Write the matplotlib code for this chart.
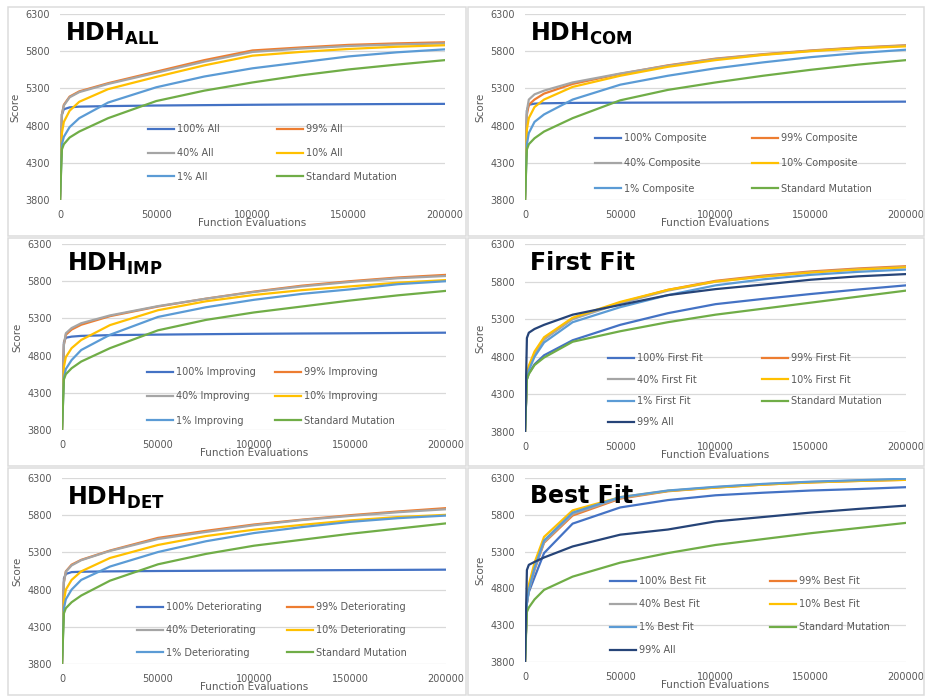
import matplotlib
matplotlib.use('Agg')
import matplotlib.pyplot as plt
from matplotlib.patches import Rectangle

# ---- data ----
evals = [0, 1000, 2000, 5000, 10000, 25000, 50000, 75000, 100000, 125000, 150000, 175000, 200000]

all_100 = [3800, 4950, 5020, 5045, 5055, 5062, 5070, 5075, 5080, 5084, 5087, 5090, 5092]
all_99 = [3800, 4950, 5080, 5190, 5260, 5370, 5525, 5680, 5810, 5850, 5885, 5905, 5920]
all_40 = [3800, 4950, 5070, 5180, 5250, 5360, 5510, 5660, 5790, 5835, 5870, 5890, 5905]
all_10 = [3800, 4700, 4850, 5000, 5120, 5290, 5455, 5610, 5740, 5790, 5830, 5860, 5880]
all_1 = [3800, 4550, 4650, 4780, 4900, 5110, 5315, 5460, 5570, 5650, 5730, 5785, 5825]
all_std = [3800, 4480, 4550, 4640, 4720, 4900, 5130, 5270, 5380, 5475, 5555, 5620, 5680]

com_100 = [3800, 5000, 5080, 5095, 5100, 5105, 5108, 5110, 5112, 5115, 5117, 5119, 5122]
com_99 = [3800, 4950, 5080, 5150, 5230, 5360, 5495, 5610, 5700, 5760, 5810, 5850, 5880]
com_40 = [3800, 5000, 5150, 5220, 5270, 5380, 5500, 5605, 5695, 5755, 5805, 5845, 5875]
com_10 = [3800, 4750, 4900, 5050, 5150, 5320, 5470, 5590, 5680, 5750, 5800, 5840, 5865]
com_1 = [3800, 4550, 4700, 4850, 4950, 5150, 5350, 5470, 5570, 5650, 5720, 5775, 5820]
com_std = [3800, 4480, 4550, 4630, 4720, 4900, 5140, 5280, 5380, 5470, 5550, 5620, 5680]

imp_100 = [3800, 4980, 5040, 5055, 5065, 5075, 5082, 5088, 5093, 5097, 5100, 5104, 5108]
imp_99 = [3800, 4950, 5080, 5150, 5215, 5330, 5460, 5565, 5660, 5740, 5800, 5850, 5885]
imp_40 = [3800, 4950, 5100, 5170, 5235, 5340, 5465, 5565, 5655, 5730, 5790, 5840, 5870]
imp_10 = [3800, 4650, 4780, 4900, 5010, 5210, 5410, 5530, 5615, 5680, 5730, 5780, 5815]
imp_1 = [3800, 4500, 4620, 4740, 4875, 5080, 5320, 5450, 5550, 5630, 5690, 5760, 5800]
imp_std = [3800, 4480, 4550, 4630, 4720, 4900, 5140, 5280, 5380, 5460, 5540, 5610, 5670]

ff_100 = [3800, 4500, 4580, 4700, 4820, 5020, 5225, 5380, 5500, 5570, 5635, 5695, 5750]
ff_99 = [3800, 4550, 4650, 4850, 5040, 5310, 5520, 5690, 5810, 5880, 5935, 5975, 6005]
ff_40 = [3800, 4550, 4650, 4840, 5030, 5300, 5510, 5680, 5800, 5870, 5925, 5965, 5995]
ff_10 = [3800, 4580, 4680, 4870, 5060, 5320, 5530, 5690, 5800, 5865, 5920, 5960, 5990]
ff_1 = [3800, 4520, 4620, 4800, 4990, 5260, 5460, 5620, 5750, 5830, 5890, 5930, 5960]
ff_std = [3800, 4500, 4570, 4690, 4790, 5000, 5140, 5260, 5360, 5440, 5520, 5600, 5680]
ff_all99 = [3800, 5050, 5120, 5170, 5225, 5360, 5490, 5620, 5700, 5760, 5825, 5870, 5900]

det_100 = [3800, 4950, 5010, 5035, 5040, 5045, 5050, 5053, 5056, 5059, 5062, 5065, 5068]
det_99 = [3800, 4900, 5045, 5135, 5200, 5325, 5495, 5590, 5675, 5740, 5800, 5850, 5895]
det_40 = [3800, 4900, 5040, 5125, 5195, 5320, 5480, 5575, 5665, 5735, 5790, 5840, 5880]
det_10 = [3800, 4650, 4800, 4930, 5045, 5225, 5400, 5520, 5605, 5670, 5730, 5775, 5805]
det_1 = [3800, 4550, 4670, 4800, 4930, 5110, 5305, 5450, 5560, 5640, 5710, 5760, 5795]
det_std = [3800, 4480, 4550, 4630, 4720, 4920, 5140, 5280, 5390, 5470, 5550, 5620, 5690]

bf_100 = [3800, 4600, 4750, 4950, 5280, 5680, 5900, 6000, 6065, 6100, 6130, 6150, 6175]
bf_99 = [3800, 4600, 4780, 5050, 5420, 5790, 6020, 6120, 6170, 6210, 6240, 6260, 6275]
bf_40 = [3800, 4600, 4780, 5060, 5430, 5810, 6030, 6125, 6175, 6215, 6245, 6265, 6280]
bf_10 = [3800, 4650, 4850, 5150, 5500, 5860, 6040, 6125, 6170, 6210, 6240, 6260, 6275]
bf_1 = [3800, 4600, 4780, 5080, 5450, 5830, 6040, 6130, 6180, 6220, 6250, 6270, 6290]
bf_std = [3800, 4480, 4540, 4650, 4780, 4960, 5150, 5280, 5390, 5470, 5550, 5620, 5690]
bf_all99 = [3800, 5050, 5120, 5160, 5220, 5370, 5530, 5600, 5710, 5770, 5830, 5880, 5925]

pcts = ["100%", "99%", "40%", "10%", "1%"]
y_ticks = [3800, 4300, 4800, 5300, 5800, 6300]
x_ticks = [0, 50000, 100000, 150000, 200000]

# excel 2013 palette
colors = ['#4472C4', '#ED7D31', '#A5A5A5', '#FFC000', '#5B9BD5', '#70AD47', '#264478']
GREY_TXT = '#595959'

W, H = 926, 696
fig = plt.figure(figsize=(W / 100, H / 100), dpi=100)

def fig_box(l, t, r, b):
    return [l / W, 1 - b / H, (r - l) / W, (b - t) / H]

# panel frames
for (l, t, r, b) in [(8, 7, 466, 236), (468, 7, 924, 236),
                     (8, 238, 466, 466), (468, 238, 924, 466),
                     (8, 468, 466, 695), (468, 468, 924, 695)]:
    fig.add_artist(Rectangle((l / W, 1 - b / H), (r - l) / W, (b - t) / H,
                             transform=fig.transFigure, fill=False,
                             ec='#dcdcdc', lw=1.1))

# title, series, suffix, axes box(px), legend (col1 x, col2 x, row1 y, labelspacing)
panels = [
    (r'$\mathbf{HDH}_{\mathbf{ALL}}$', [all_100, all_99, all_40, all_10, all_1, all_std], 'All',
     (60, 14, 445, 200), (148, 277, 130, 1.41)),
    (r'$\mathbf{HDH}_{\mathbf{COM}}$', [com_100, com_99, com_40, com_10, com_1, com_std], 'Composite',
     (525, 14, 906, 200), (595, 752, 139, 1.56)),
    (r'$\mathbf{HDH}_{\mathbf{IMP}}$', [imp_100, imp_99, imp_40, imp_10, imp_1, imp_std], 'Improving',
     (62, 244, 446, 430), (147, 275, 373, 1.46)),
    ('First Fit', [ff_100, ff_99, ff_40, ff_10, ff_1, ff_std, ff_all99], 'First Fit',
     (525, 244, 906, 432), (608, 762, 359, 1.17)),
    (r'$\mathbf{HDH}_{\mathbf{DET}}$', [det_100, det_99, det_40, det_10, det_1, det_std], 'Deteriorating',
     (62, 478, 446, 664), (137, 287, 608, 1.31)),
    ('Best Fit', [bf_100, bf_99, bf_40, bf_10, bf_1, bf_std, bf_all99], 'Best Fit',
     (525, 478, 906, 662), (610, 770, 582, 1.34)),
]

for title, series, suffix, box, lg in panels:
    ax = fig.add_axes(fig_box(*box))
    labels = [f'{p} {suffix}' for p in pcts] + ['Standard Mutation', '99% All']
    handles = []
    for i, vals in enumerate(series):
        ln, = ax.plot(evals, vals, color=colors[i], lw=1.6, label=labels[i])
        handles.append(ln)

    ax.set_xlim(0, 200000)
    ax.set_ylim(3800, 6300)
    ax.set_xticks(x_ticks)
    ax.set_yticks(y_ticks)
    ax.tick_params(length=0, labelsize=7, labelcolor=GREY_TXT, pad=7)
    ax.yaxis.grid(True, color='#d9d9d9', lw=0.9)
    ax.set_axisbelow(True)
    for s in ax.spines.values():
        s.set_visible(False)
    ax.set_xlabel('Function Evaluations', fontsize=7.5, color=GREY_TXT, labelpad=-1)
    ax.set_ylabel('Score', fontsize=7.5, color=GREY_TXT, labelpad=4)

    ax.text(0.012, 0.965, title, transform=ax.transAxes, fontsize=17,
            fontweight='bold', va='top', ha='left', color='black')

    x1, x2, y1, ls = lg
    kw = dict(loc='upper left', bbox_transform=fig.transFigure, frameon=False,
              borderpad=0, borderaxespad=0, handlelength=2.7, handletextpad=0.3,
              labelspacing=ls, fontsize=7, labelcolor=GREY_TXT)
    leg1 = ax.legend(handles=handles[0::2], bbox_to_anchor=(x1 / W, 1 - (y1 - 5.7) / H), **kw)
    ax.add_artist(leg1)
    ax.legend(handles=handles[1::2], bbox_to_anchor=(x2 / W, 1 - (y1 - 5.7) / H), **kw)

fig.savefig('out.png', dpi=100)
